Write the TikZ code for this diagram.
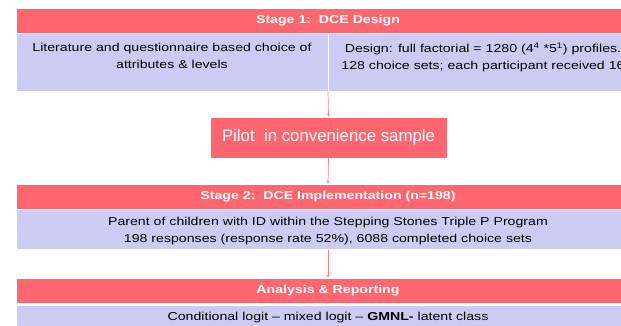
\documentclass[tikz,border=0pt]{standalone}
\usepackage{fontspec}
\setmainfont{Liberation Sans}[FakeStretch=1.23]
\newfontfamily\pilotfont{Liberation Sans}
\usetikzlibrary{arrows.meta}
\definecolor{headred}{HTML}{FF6670}
\definecolor{bodyblue}{HTML}{CCCCF3}
\definecolor{linkred}{HTML}{FF7C84}
\tikzset{
  head/.style={fill=headred, draw=white, line width=0.6pt, text=white, font=\fontsize{11.5}{13}\selectfont\bfseries, minimum width=624pt, minimum height=25pt, inner sep=0pt},
  cell/.style={fill=bodyblue, draw=white, line width=0.6pt, minimum width=624pt, inner sep=0pt, align=center},
  link/.style={draw=linkred, line width=0.7pt, ->},
}
\begin{document}
\begin{tikzpicture}[x=1pt, y=-1pt, font=\fontsize{11.5}{17}\selectfont, line join=round, >={Stealth[length=3pt,width=3pt]}]
  \useasboundingbox (0,0) rectangle (621,325);
  \clip (0,0) rectangle (621,325);
  % Stage 1
  \node[head] (s1head) at (328,20.5) {Stage 1:\ \ DCE Design};
  \node[cell, minimum height=58pt] (s1body) at (328,62) {};
  \draw[white, line width=0.8pt] (s1body.north) -- (s1body.south);
  \node[align=center, anchor=north] (s1left) at (172,39.5) {Literature and questionnaire based choice of\\attributes \& levels};
  \node[align=center, anchor=north] (s1right) at (483,39.5) {Design: full factorial = 1280 (4\textsuperscript{4} *5\textsuperscript{1}) profiles.\\128 choice sets; each participant received 16};
  % pilot
  \node[fill=headred, draw=white, line width=0.6pt, text=white, font=\pilotfont\fontsize{16.8}{19}\selectfont, minimum width=237pt, minimum height=41pt] (pilot) at (328.5,137.5) {Pilot\ \ in convenience sample};
  % Stage 2
  \node[head] (s2head) at (328,196.5) {Stage 2:\ \ DCE Implementation (n=198)};
  \node[cell, minimum height=40pt] (s2body) at (328,229.5) {};
  \node[align=center, anchor=north] (s2text) at (328,213.5) {Parent of children with ID within the Stepping Stones Triple P Program\\198 responses (response rate 52\%), 6088 completed choice sets};
  % analysis
  \node[head] (anhead) at (328,290.5) {Analysis \& Reporting};
  \node[cell, minimum height=25pt] (anbody) at (328,317.3) {Conditional logit -- mixed logit -- \textbf{GMNL-} latent class};
  % links
  \draw[link] (s1body.south) -- (pilot.north);
  \draw[link] (pilot.south) -- (s2head.north);
  \draw[link] (s2body.south) -- (anhead.north);
\end{tikzpicture}
\end{document}
